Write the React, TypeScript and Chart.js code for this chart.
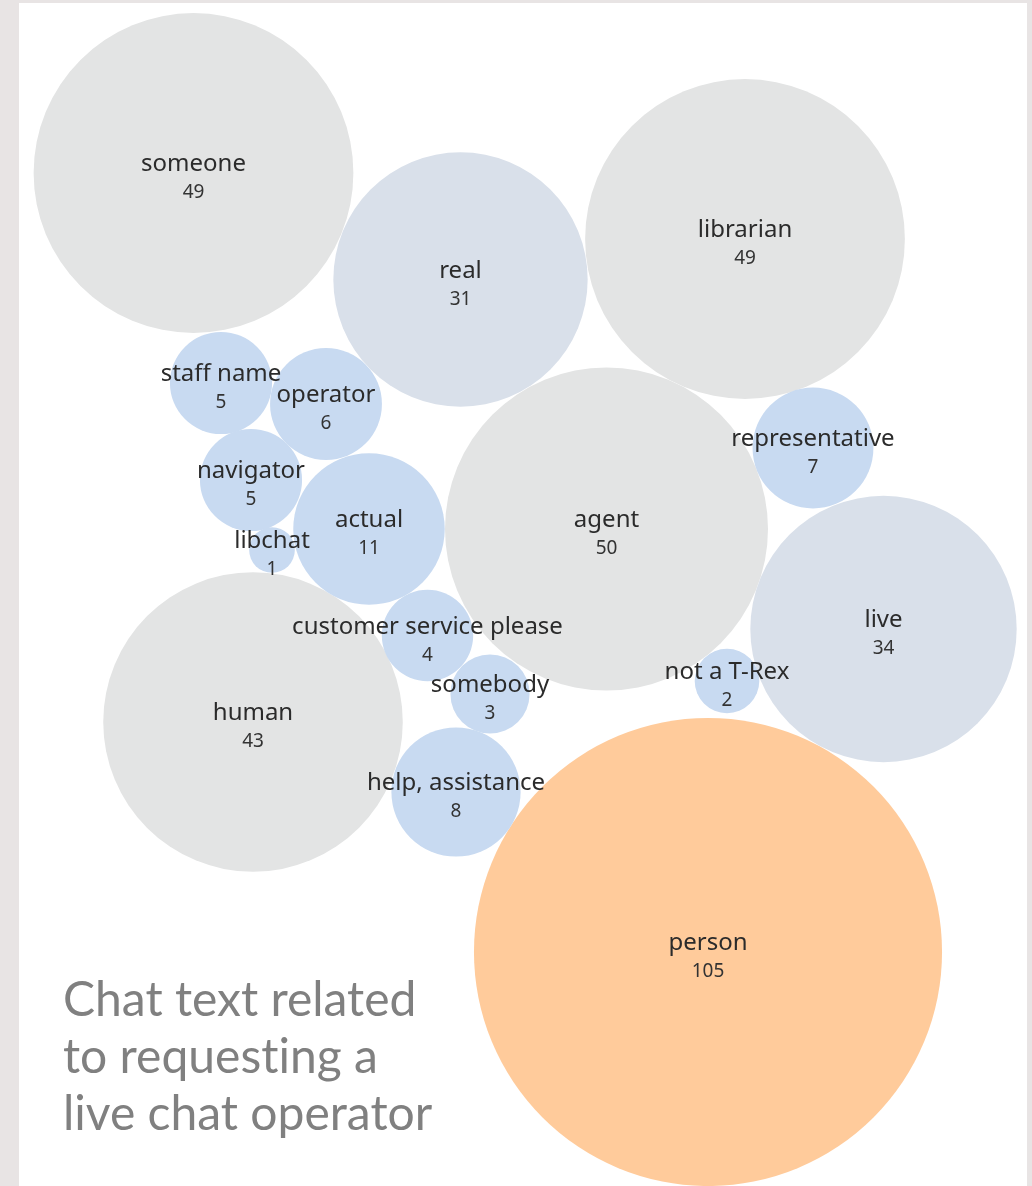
import React, { useEffect, useRef } from "react";
import { Chart, registerables } from "chart.js";

Chart.register(...registerables);

// ---- data ----
const terms = [
  "person",
  "agent",
  "someone",
  "librarian",
  "human",
  "live",
  "real",
  "actual",
  "help, assistance",
  "representative",
  "operator",
  "staff name",
  "navigator",
  "customer service please",
  "somebody",
  "not a T-Rex",
  "libchat",
];
const counts = [105, 50, 49, 49, 43, 34, 31, 11, 8, 7, 6, 5, 5, 4, 3, 2, 1];
// packed-bubble layout coordinates (layout units)
const packX = [689, 587.5, 174.5, 726, 234, 864.5, 441.5, 350, 437, 794, 307, 202, 232, 408.5, 471, 708, 253];
const packY = [949, 526, 170, 236, 719, 626, 276.5, 526, 789, 445, 401, 380, 477, 632.5, 691, 678, 547];
const groups = [
  "focus",
  "common",
  "common",
  "common",
  "common",
  "frequent",
  "frequent",
  "rare",
  "rare",
  "rare",
  "rare",
  "rare",
  "rare",
  "rare",
  "rare",
  "rare",
  "rare",
];
const titleLines = ["Chat text related", "to requesting a", "live chat operator"];

// ---- styles ----
const palette: Record<string, string> = {
  focus: "#ffcb9b",
  common: "#e3e4e4",
  frequent: "#d9e0ea",
  rare: "#c8daf1",
};
const W = 1008;
const H = 1183;
const RADIUS_PER_SQRT = 22.84; // px per sqrt(count)

const labelPlugin = {
  id: "bubbleLabels",
  afterDatasetsDraw(chart: any) {
    const ctx = chart.ctx;
    const meta = chart.getDatasetMeta(0);
    ctx.save();
    ctx.textAlign = "center";
    ctx.textBaseline = "alphabetic";
    meta.data.forEach((el: any, i: number) => {
      ctx.fillStyle = "#2b2b2b";
      ctx.font = '24px "Noto Sans"';
      ctx.fillText(terms[i], el.x, el.y - 2);
      ctx.fillStyle = "#333333";
      ctx.font = '19px "Noto Sans"';
      ctx.fillText(String(counts[i]), el.x, el.y + 25);
    });
    ctx.restore();
  },
};

export default function App() {
  const ref = useRef<HTMLCanvasElement | null>(null);

  useEffect(() => {
    if (!ref.current) return;
    const chart = new Chart(ref.current, {
      type: "bubble",
      data: {
        datasets: [
          {
            data: terms.map((t, i) => ({
              x: packX[i],
              y: packY[i],
              r: Math.sqrt(counts[i]) * RADIUS_PER_SQRT,
            })),
            backgroundColor: groups.map((g) => palette[g]),
            hoverBackgroundColor: groups.map((g) => palette[g]),
            borderWidth: 0,
            hoverBorderWidth: 0,
            clip: false as any,
          } as any,
        ],
      },
      options: {
        animation: false,
        responsive: false,
        events: [],
        layout: { padding: 0, autoPadding: false },
        plugins: {
          legend: { display: false },
          tooltip: { enabled: false },
        },
        scales: {
          x: { type: "linear", min: 0, max: W, display: false },
          y: { type: "linear", min: 0, max: H, reverse: true, display: false },
        },
      },
      plugins: [labelPlugin],
    });
    return () => chart.destroy();
  }, []);

  return (
    <div
      style={{
        position: "fixed",
        left: 0,
        top: 0,
        width: 1032,
        height: 1186,
        background: "#e8e4e4",
        overflow: "hidden",
      }}
    >
      <div
        style={{
          position: "absolute",
          left: 19,
          top: 3,
          width: W,
          height: H,
          background: "#ffffff",
        }}
      >
        <canvas ref={ref} width={W} height={H} style={{ display: "block", width: W, height: H }} />
      </div>
      <div
        style={{
          position: "absolute",
          left: 63,
          top: 969,
          fontFamily: "Lato, sans-serif",
          fontSize: 48,
          lineHeight: "57px",
          color: "#808080",
          whiteSpace: "nowrap",
          fontVariantLigatures: "none",
        }}
      >
        {titleLines.map((l, i) => (
          <div key={i}>{l}</div>
        ))}
      </div>
    </div>
  );
}
